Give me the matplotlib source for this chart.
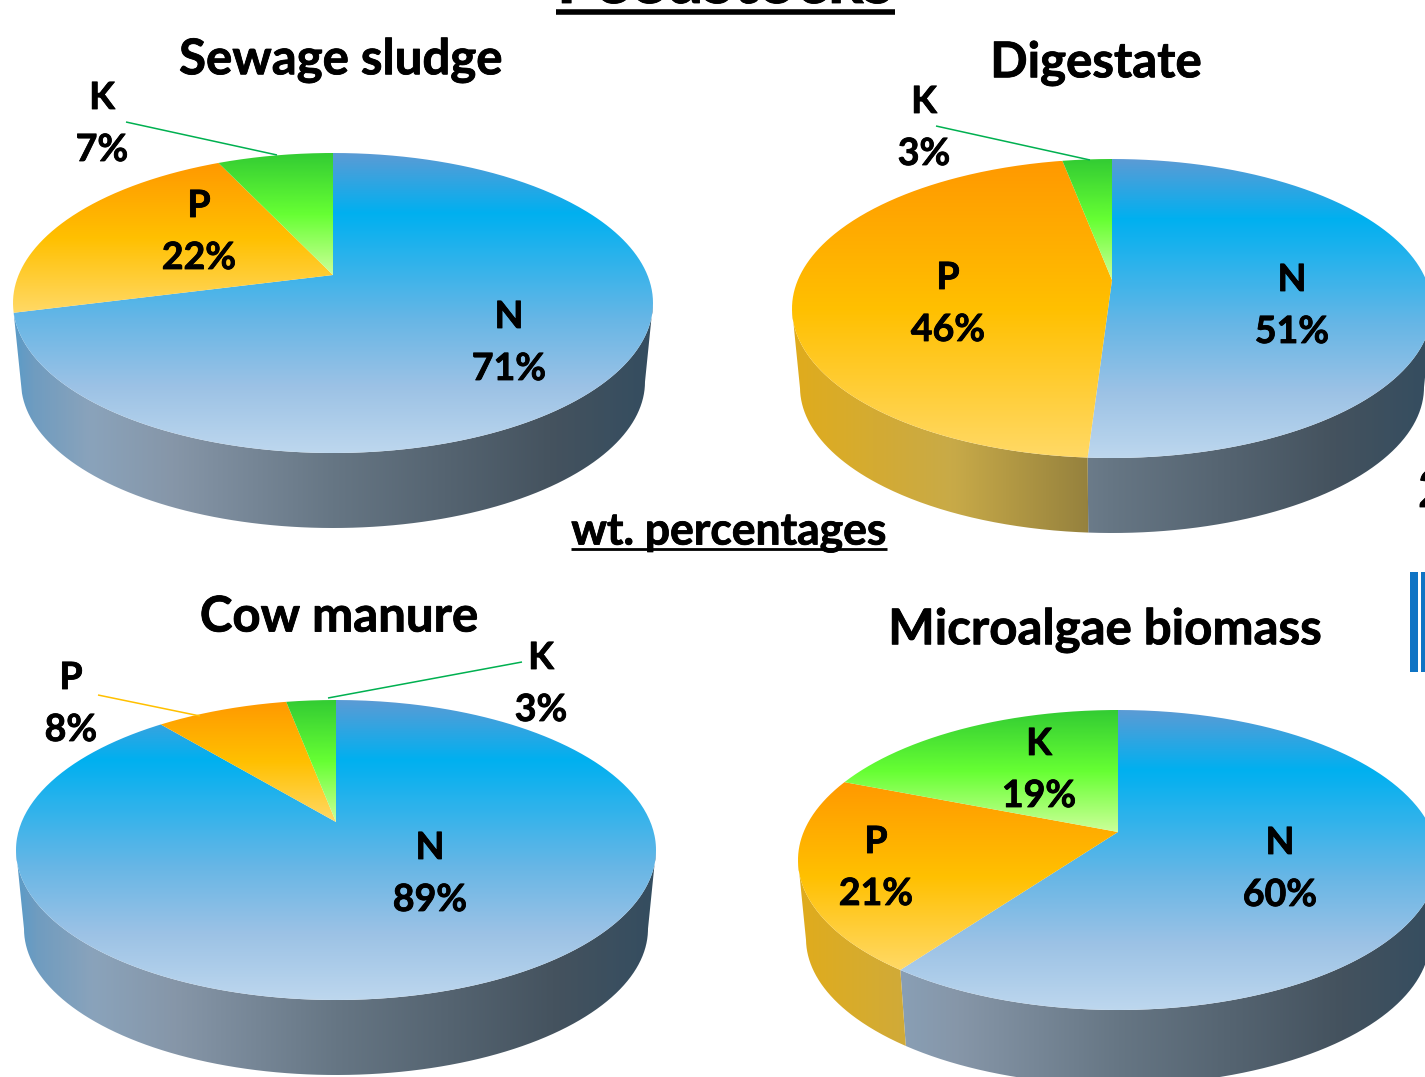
import numpy as np
import matplotlib.pyplot as plt
import matplotlib.patheffects as pe
from matplotlib.colors import LinearSegmentedColormap as LSC
from matplotlib.path import Path

plt.rcParams['font.family'] = ['Lato', 'DejaVu Sans']
plt.rcParams['font.weight'] = 'bold'

titles = ["Sewage sludge", "Digestate", "Cow manure", "Microalgae biomass"]
nutrients = ["N", "P", "K"]
sewage = [71, 22, 7]
digestate = [51, 46, 3]
cow = [89, 8, 3]
algae = [60, 21, 19]
all_values = [sewage, digestate, cow, algae]

# pie placement in pixels: centre x, top, bottom, apex y
pies = [(333, 153, 453, 275), (1112, 159, 458, 280),
        (336, 700, 1000, 822), (1118, 710, 1010, 832)]
title_pos = [(341, 60), (1096, 63), (339, 617), (1105, 630)]
# name label centres per pie, same order as nutrients
label_pos = [[(509, 317), (199, 206), (102, 98)],
             [(1292, 280), (948, 278), (924, 102)],
             [(430, 848), (71, 678), (541, 658)],
             [(1280, 843), (876, 842), (1039, 744)]]
leaders = [((126, 122), (277, 155), "#00b050"),
           ((936, 126), (1090, 160), "#00b050"),
           ((328, 698), (522, 662), "#00b050"),
           ((98, 695), (200, 716), "#ffc000")]

RX = 320
DEPTH = 75
SHRINK = 0.975
heavy = [pe.withStroke(linewidth=0.6, foreground='black')]

top_cmaps = {
    "N": LSC.from_list("n", [(0, "#5b9bd5"), (0.2, "#00b0f0"), (0.55, "#66b6e6"),
                             (0.78, "#9cc2e5"), (1, "#bdd7ee")]),
    "P": LSC.from_list("p", [(0, "#ff9900"), (0.5, "#ffc000"), (1, "#ffd966")]),
    "K": LSC.from_list("k", [(0, "#33cc33"), (0.5, "#66ff33"), (1, "#ccff99")]),
}
side_cmaps = {
    "N": LSC.from_list("ns", [(0, "#5a9bc8"), (0.03, "#6f9cc0"), (0.12, "#8aa3bb"), (0.25, "#8696a8"),
                              (0.5, "#667684"), (0.85, "#44525e"), (1, "#344d60")]),
    "P": LSC.from_list("ps", [(0, "#e0ac1c"), (0.25, "#c8aa48"), (0.5, "#8c7a3c"), (1, "#5c4c20")]),
    "K": LSC.from_list("ks", [(0, "#30a030"), (1, "#205020")]),
}


def rim(theta, cx, top, bottom, apex):
    # perspective projection of the unit circle, theta clockwise from 12 o'clock
    ry = (bottom - top) / 2
    mid = (bottom + top) / 2
    c = mid - apex
    b = c / ry
    u, v = np.sin(theta), np.cos(theta)
    w = 1 + b * v
    x = RX * np.sqrt(1 - b ** 2) * u / w
    y = (ry * v + c) / w
    return x, y, mid


def gradient(ax, cmap, verts, extent, vertical=True):
    g = np.linspace(0, 1, 256)
    g = g[:, None] if vertical else g[None, :]
    im = ax.imshow(g, cmap=cmap, extent=extent, aspect='auto', interpolation='bilinear', vmin=0, vmax=1)
    im.set_clip_path(Path(verts), ax.transData)


fig = plt.figure(figsize=(14.25, 10.77), dpi=100)
ax = fig.add_axes([0, 0, 1, 1])
ax.axis('off')

for values, (cx, top, bottom, apex) in zip(all_values, pies):
    edges = np.cumsum([0] + values) / sum(values) * 2 * np.pi
    ry = (bottom - top) / 2
    # the wall is only seen between the two widest points of the rim
    b = ((bottom + top) / 2 - apex) / ry
    front0 = np.arccos(-b)
    front1 = 2 * np.pi - front0
    for name, a0, a1 in zip(nutrients, edges[:-1], edges[1:]):
        a0, a1 = max(a0, front0), min(a1, front1)
        if a1 - a0 < np.radians(6):
            continue
        t = np.linspace(a0, a1, 200)
        x, y, mid = rim(t, cx, top, bottom, apex)
        up = np.column_stack([cx + x, mid - y])
        low = np.column_stack([cx + SHRINK * x, mid - SHRINK * y + DEPTH + ry * (1 - SHRINK)])
        verts = np.vstack([up, low[::-1], up[:1]])
        gradient(ax, side_cmaps[name], verts, [cx - RX, cx + RX, bottom + 100, top], vertical=False)
    for name, a0, a1 in zip(nutrients, edges[:-1], edges[1:]):
        t = np.linspace(a0, a1, 300)
        x, y, mid = rim(t, cx, top, bottom, apex)
        verts = np.vstack([[cx, apex], np.column_stack([cx + x, mid - y]), [cx, apex]])
        gradient(ax, top_cmaps[name], verts,
                 [cx - RX, cx + RX, verts[:, 1].max(), verts[:, 1].min()])

for (p0, p1, col) in leaders:
    ax.plot([p0[0], p1[0]], [p0[1], p1[1]], color=col, lw=1.1, solid_capstyle='butt')

for title, (x, y) in zip(titles, title_pos):
    ax.text(x, y, title, fontsize=35.4, ha='center', va='center', color='black', path_effects=heavy)

for values, spots in zip(all_values, label_pos):
    for name, val, (x, y) in zip(nutrients, values, spots):
        ax.text(x, y, name, fontsize=27, ha='center', va='center', color='black', path_effects=heavy)
        ax.text(x, y + 52, f"{val}%", fontsize=27, ha='center', va='center', color='black', path_effects=heavy)

ax.text(729, 532, "wt. percentages", fontsize=32, ha='center', va='center', color='black', path_effects=heavy)
ax.plot([571, 887], [549, 549], color='black', lw=2, solid_capstyle='butt')

# heading and neighbours cut off by the frame
ax.text(725, 3, "Feedstocks", fontsize=48, ha='center', va='baseline', color='black', path_effects=heavy)
ax.plot([556, 895], [12, 12], color='black', lw=4, solid_capstyle='butt')
ax.text(1418, 507, "2", fontsize=37, ha='left', va='baseline', color='black', path_effects=heavy)

stripe = LSC.from_list("st", ["#00306e", "#0060ac", "#0070c0"])
for x0, x1 in [(1410, 1418), (1421, 1429)]:
    ax.fill_between([x0, x1], 572, 672, color="#0f74c4", lw=0)
    sq = [(x0 + 2, 574), (x1 - 2, 574), (x1 - 2, 670), (x0 + 2, 670), (x0 + 2, 574)]
    gradient(ax, stripe, sq, [x0 + 2, x1 - 2, 670, 574])

ax.set_xlim(0, 1425)
ax.set_ylim(1077, 0)
fig.savefig("out.png", dpi=100)
